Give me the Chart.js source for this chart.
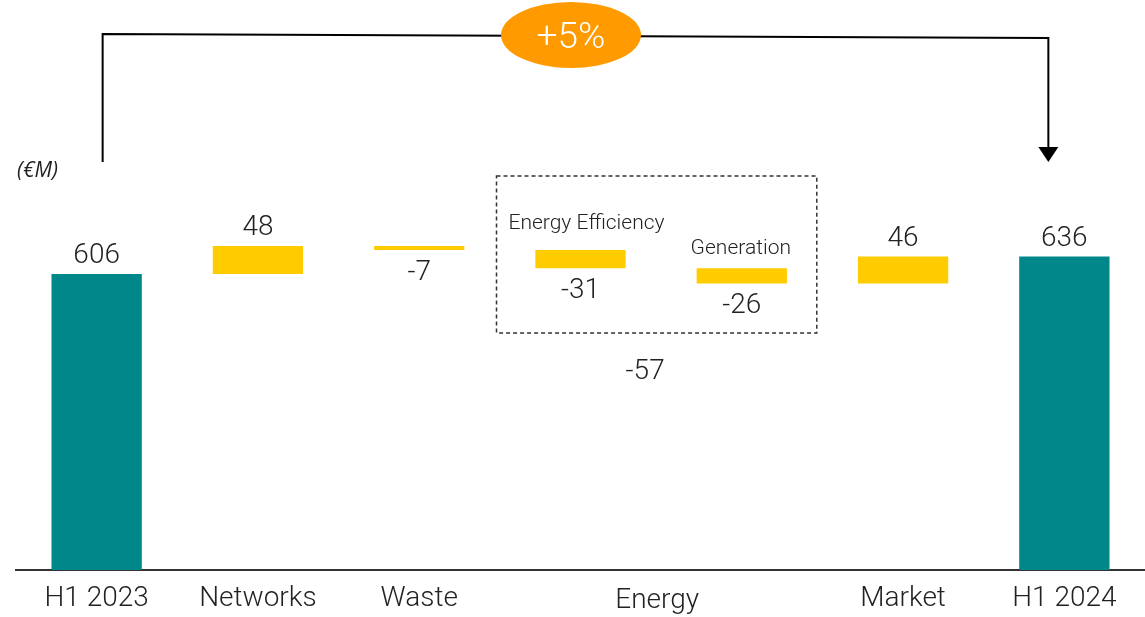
<!DOCTYPE html>
<html>
<head>
<meta charset="utf-8">
<script src="https://cdn.jsdelivr.net/npm/chart.js@4/dist/chart.umd.min.js"></script>
<style>
  html, body { margin: 0; padding: 0; background: #fff; }
  canvas { display: block; }
</style>
</head>
<body>
<canvas id="bridgeChart" width="1145" height="617"></canvas>
<script>
// bridge data (€M)
const categories = ['H1 2023', 'Networks', 'Waste', 'Energy Efficiency', 'Generation', 'Market', 'H1 2024'];
const tickLabels = ['H1 2023', 'Networks', 'Waste', '', '', 'Market', 'H1 2024'];
const startTotal = 606;
const endTotal = 636;
const deltas = [48, -7, -31, -26, 46];
const energyTotal = -57;
const growthLabel = '+5%';
const axisMin = 100;
const axisMax = 972;

const TEAL = '#00878A';
const YELLOW = '#FFCC00';
const ORANGE = '#FF9A00';
const TEXT = '#222222';
const FONT = '"Roboto Light", Roboto';

// floating bars: [from, to]
const bars = [[axisMin, startTotal]];
let running = startTotal;
deltas.forEach(d => {
  bars.push([running, running + d]);
  running += d;
});
bars.push([axisMin, endTotal]);

const barColors = categories.map((c, i) => (i === 0 || i === categories.length - 1) ? TEAL : YELLOW);
const valueLabels = [startTotal, ...deltas, endTotal].map(v => String(v));

// ============= overlay: labels, bracket, energy box =============
const overlay = {
  id: 'overlay',
  afterDatasetsDraw(chart) {
    const { ctx } = chart;
    const y = chart.scales.y;
    const meta = chart.getDatasetMeta(0);
    const last = bars.length - 1;

    ctx.save();
    ctx.fillStyle = TEXT;
    ctx.textAlign = 'center';
    ctx.textBaseline = 'alphabetic';
    ctx.font = '300 28px ' + FONT;

    // value labels above positives, below negatives
    bars.forEach((b, i) => {
      const x = meta.data[i].x;
      const neg = b[1] < b[0];
      if (neg) {
        ctx.fillText(valueLabels[i], x, y.getPixelForValue(b[1]) + 30);
      } else {
        ctx.fillText(valueLabels[i], x, y.getPixelForValue(b[1]) - 11);
      }
    });

    // energy sub labels
    const xEE = meta.data[3].x;
    const xGen = meta.data[4].x;
    ctx.font = '300 21px ' + FONT;
    ctx.fillText(categories[3], xEE + 6, y.getPixelForValue(bars[3][0]) - 21);
    ctx.fillText(categories[4], xGen - 1, y.getPixelForValue(bars[4][0]) - 14);

    // energy total
    ctx.font = '300 28px ' + FONT;
    ctx.fillText(String(energyTotal), (xEE + xGen) / 2 - 16, 379);

    // energy group label under the axis
    ctx.fillText('Energy', (xEE + xGen) / 2 - 4, 608);

    // dashed box round the energy bars
    ctx.strokeStyle = '#333';
    ctx.lineWidth = 1.5;
    ctx.setLineDash([4, 3]);
    ctx.strokeRect(xEE - 84, 176, (xGen + 75) - (xEE - 84), 157);
    ctx.setLineDash([]);

    // unit
    ctx.textAlign = 'left';
    ctx.font = 'italic 21px "Open Sans"';
    ctx.fillText('(€M)', 17, 177);

    // bracket with arrow
    const xL = meta.data[0].x + 6;
    const xR = meta.data[last].x - 16;
    ctx.strokeStyle = '#000';
    ctx.lineWidth = 2;
    ctx.beginPath();
    ctx.moveTo(xL, 162);
    ctx.lineTo(xL, 34);
    ctx.lineTo(xR, 38);
    ctx.lineTo(xR, 148);
    ctx.stroke();
    ctx.fillStyle = '#000';
    ctx.beginPath();
    ctx.moveTo(xR - 10, 147);
    ctx.lineTo(xR + 10, 147);
    ctx.lineTo(xR, 162);
    ctx.closePath();
    ctx.fill();

    // growth bubble
    ctx.fillStyle = ORANGE;
    ctx.beginPath();
    ctx.ellipse(571, 35, 70, 33, 0, 0, Math.PI * 2);
    ctx.fill();
    ctx.fillStyle = '#fff';
    ctx.textAlign = 'center';
    ctx.textBaseline = 'middle';
    ctx.font = '300 37px ' + FONT;
    ctx.fillText(growthLabel, 571, 37);

    ctx.restore();
  }
};

new Chart(document.getElementById('bridgeChart'), {
  type: 'bar',
  data: {
    labels: tickLabels,
    datasets: [{
      data: bars,
      backgroundColor: barColors,
      borderWidth: 0,
      barPercentage: 0.56,
      categoryPercentage: 1
    }]
  },
  options: {
    responsive: false,
    animation: false,
    devicePixelRatio: 1,
    layout: { padding: { left: 16, right: 0, top: 60, bottom: 0 } },
    plugins: { legend: { display: false }, tooltip: { enabled: false } },
    scales: {
      x: {
        grid: { display: false },
        border: { display: true, color: '#333', width: 2 },
        ticks: { color: TEXT, padding: 3, font: { family: FONT, size: 28, weight: '300' }, maxRotation: 0, autoSkip: false },
        afterFit(scale) { scale.height = 47; }
      },
      y: {
        display: false,
        min: axisMin,
        max: axisMax
      }
    }
  },
  plugins: [overlay]
});
</script>
</body>
</html>
